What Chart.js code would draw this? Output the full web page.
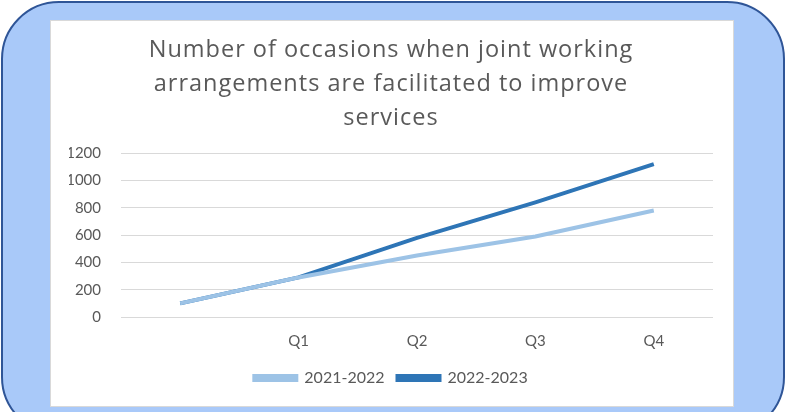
<!DOCTYPE html>
<html>
<head>
<meta charset="utf-8">
<title>Joint working arrangements</title>
<script src="https://cdn.jsdelivr.net/npm/chart.js@4"></script>
<style>
  html, body { margin: 0; padding: 0; width: 786px; height: 412px; overflow: hidden; background: #ffffff; }
  /* rounded blue panel behind the chart */
  .panel {
    position: absolute; left: 1px; top: 1px; width: 780px; height: 430px;
    background: #a9c9f9; border: 2px solid #2f5597; border-radius: 58px;
  }
  .card {
    position: absolute; left: 50px; top: 20px; width: 682px; height: 385px;
    background: #ffffff; border: 1px solid #d9d9d9;
  }
  canvas { display: block; }
</style>
</head>
<body>
<div class="panel"></div>
<div class="card"><canvas id="occasionsChart" width="682" height="385"></canvas></div>
<script>
const quarters = ['', 'Q1', 'Q2', 'Q3', 'Q4'];
const year2122 = [100, 290, 450, 590, 780];
const year2223 = [100, 290, 580, 840, 1120];
const yTicks = [0, 200, 400, 600, 800, 1000, 1200];

const fontFamily = 'Lato, "Open Sans", sans-serif';
const textGrey = '#595959';

// widen the title lettering a little
const titleSpacing = {
  id: 'titleSpacing',
  afterInit(chart) {
    const block = chart.titleBlock;
    if (!block) return;
    const draw = block.draw.bind(block);
    block.draw = function () {
      chart.ctx.save();
      chart.ctx.letterSpacing = '1px';
      draw();
      chart.ctx.restore();
    };
  }
};

new Chart(document.getElementById('occasionsChart'), {
  type: 'line',
  data: {
    labels: quarters,
    datasets: [
      {
        label: '2021-2022',
        data: year2122,
        borderColor: '#9dc3e6',
        backgroundColor: '#9dc3e6',
        borderWidth: 4,
        pointRadius: 0,
        tension: 0
      },
      {
        label: '2022-2023',
        data: year2223,
        borderColor: '#2e75b6',
        backgroundColor: '#2e75b6',
        borderWidth: 4,
        pointRadius: 0,
        tension: 0
      }
    ]
  },
  options: {
    responsive: false,
    animation: false,
    layout: { padding: { left: 18, right: 20, top: 0, bottom: 10 } },
    plugins: {
      title: {
        display: true,
        text: ['Number of occasions when joint working', 'arrangements are facilitated to improve', 'services'],
        color: textGrey,
        font: { family: '"Open Sans", sans-serif', size: 23.5, weight: 'normal', lineHeight: 1.45 },
        padding: { top: 12, bottom: 18 }
      },
      legend: {
        position: 'bottom',
        labels: {
          color: textGrey,
          font: { family: fontFamily, size: 16 },
          boxWidth: 42,
          boxHeight: 4,
          padding: 13
        }
      },
      tooltip: { enabled: false }
    },
    scales: {
      x: {
        offset: true,
        grid: { display: false },
        border: { display: false },
        ticks: { color: textGrey, font: { family: fontFamily, size: 15 }, padding: 7 }
      },
      y: {
        min: 0,
        max: 1200,
        afterBuildTicks: function (scale) {
          scale.ticks = yTicks.map(v => ({ value: v }));
        },
        afterFit: function (scale) {
          scale.width = 52;
        },
        grid: { color: '#d9d9d9', lineWidth: 1, drawTicks: false },
        border: { display: false },
        ticks: {
          color: textGrey,
          font: { family: fontFamily, size: 15 },
          padding: 20,
          callback: function (value) {
            return String(value);
          }
        }
      }
    }
  },
  plugins: [titleSpacing]
});
</script>
</body>
</html>
